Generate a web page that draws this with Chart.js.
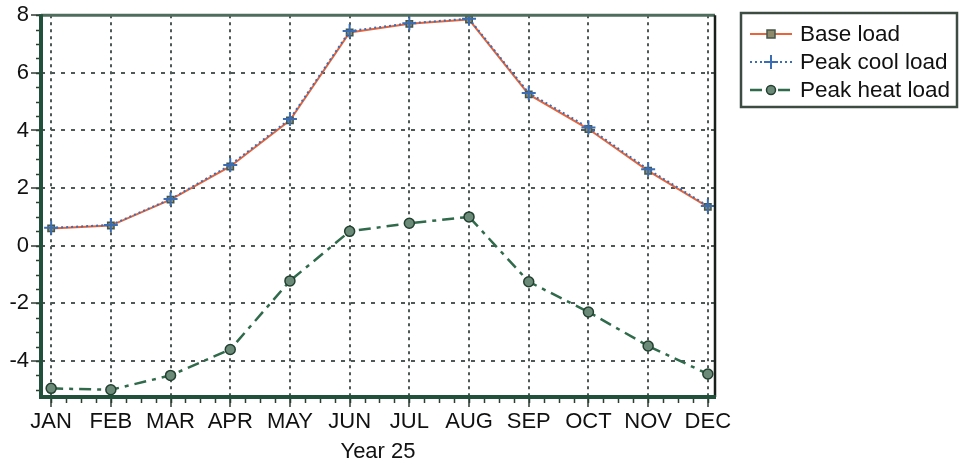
<!DOCTYPE html>
<html>
<head>
<meta charset="utf-8">
<script src="https://cdn.jsdelivr.net/npm/chart.js@4"></script>
<style>
html,body{margin:0;padding:0;background:#fff;}
#wrap{width:964px;height:466px;position:relative;}
</style>
</head>
<body>
<div id="wrap"><canvas id="c" width="964" height="466"></canvas></div>
<script>
const months = ['JAN','FEB','MAR','APR','MAY','JUN','JUL','AUG','SEP','OCT','NOV','DEC'];
const baseLoad = [0.6, 0.7, 1.6, 2.75, 4.35, 7.4, 7.7, 7.85, 5.25, 4.05, 2.6, 1.35];
const peakCoolLoad = [0.62, 0.72, 1.62, 2.8, 4.4, 7.45, 7.72, 7.88, 5.3, 4.1, 2.65, 1.38];
const peakHeatLoad = [-4.95, -5.0, -4.5, -3.6, -1.22, 0.5, 0.78, 1.0, -1.25, -2.3, -3.48, -4.45];
const yTicks = [-4, -2, 0, 2, 4, 6, 8];
const xTitle = 'Year 25';
const seriesNames = ['Base load', 'Peak cool load', 'Peak heat load'];

const FONT = "'Liberation Sans', Arial, sans-serif";
const toXY = arr => arr.map((v, i) => ({x: i, y: v}));

const minorTicks = {
  id: 'minorTicks',
  afterDraw(chart) {
    const ctx = chart.ctx, xs = chart.scales.x, ys = chart.scales.y, a = chart.chartArea;
    ctx.save();
    ctx.strokeStyle = '#2d3d33';
    ctx.lineWidth = 1.5;
    ctx.beginPath();
    for (let v = -5; v <= 8.001; v += 0.5) {
      const y = Math.round(ys.getPixelForValue(v)) + 0.5;
      ctx.moveTo(a.left - 5, y); ctx.lineTo(a.left, y);
    }
    for (let v = 0; v <= 11.001; v += 0.25) {
      const x = Math.round(xs.getPixelForValue(v)) + 0.5;
      ctx.moveTo(x, a.bottom); ctx.lineTo(x, a.bottom + 6);
    }
    ctx.stroke();
    // frame
    ctx.lineWidth = 3;
    ctx.strokeStyle = '#4f6d5d';
    ctx.beginPath(); ctx.moveTo(a.left, a.top); ctx.lineTo(a.right, a.top); ctx.stroke();
    ctx.strokeStyle = '#1a1f1c';
    ctx.lineWidth = 2.5;
    ctx.beginPath(); ctx.moveTo(a.right, a.top); ctx.lineTo(a.right, a.bottom); ctx.stroke();
    ctx.strokeStyle = '#22513b';
    ctx.lineWidth = 4;
    ctx.beginPath(); ctx.moveTo(a.left, a.top - 1); ctx.lineTo(a.left, a.bottom); ctx.lineTo(a.right + 1, a.bottom); ctx.stroke();
    ctx.restore();
  }
};

const legendBox = {
  id: 'legendBox',
  afterDraw(chart) {
    const ctx = chart.ctx;
    ctx.save();
    ctx.strokeStyle = '#3c4c42';
    ctx.lineWidth = 2.5;
    ctx.strokeRect(741, 13, 216, 94);
    const rows = [34, 62, 90];
    chart.data.datasets.forEach((ds, i) => {
      const y = rows[i];
      ctx.save();
      ctx.strokeStyle = ds.borderColor;
      ctx.lineWidth = ds.borderWidth;
      ctx.setLineDash(ds.borderDash || []);
      ctx.beginPath(); ctx.moveTo(750, y); ctx.lineTo(792, y); ctx.stroke();
      ctx.setLineDash([]);
      ctx.fillStyle = ds.pointBackgroundColor;
      ctx.strokeStyle = ds.pointBorderColor;
      ctx.lineWidth = ds.pointBorderWidth;
      const cx = 771;
      if (ds.pointStyle === 'rect') {
        ctx.fillRect(cx - 4, y - 4, 8, 8); ctx.strokeRect(cx - 4, y - 4, 8, 8);
      } else if (ds.pointStyle === 'cross') {
        ctx.beginPath(); ctx.moveTo(cx - 7, y); ctx.lineTo(cx + 7, y); ctx.moveTo(cx, y - 7); ctx.lineTo(cx, y + 7); ctx.stroke();
      } else {
        ctx.beginPath(); ctx.arc(cx, y, 4.5, 0, Math.PI * 2); ctx.fill(); ctx.stroke();
      }
      ctx.restore();
      ctx.fillStyle = '#111';
      ctx.font = '22.5px ' + FONT;
      ctx.textBaseline = 'middle';
      ctx.fillText(seriesNames[i], 800, y + 1);
    });
    ctx.restore();
  }
};

new Chart(document.getElementById('c'), {
  type: 'line',
  data: {
    datasets: [
      {
        label: seriesNames[0], data: toXY(baseLoad),
        borderColor: '#e8653c', borderWidth: 2, borderDash: [],
        pointStyle: 'rect', pointRadius: 4.5,
        pointBackgroundColor: '#8f8a6a', pointBorderColor: '#45564a', pointBorderWidth: 1.5,
        tension: 0, order: 2
      },
      {
        label: seriesNames[1], data: toXY(peakCoolLoad),
        borderColor: '#3a6db3', borderWidth: 2, borderDash: [2, 3],
        pointStyle: 'cross', pointRadius: 7,
        pointBackgroundColor: '#3a6db3', pointBorderColor: '#3a6db3', pointBorderWidth: 2,
        tension: 0, order: 1
      },
      {
        label: seriesNames[2], data: toXY(peakHeatLoad),
        borderColor: '#2f6a4b', borderWidth: 2.5, borderDash: [12, 6, 4, 6],
        pointStyle: 'circle', pointRadius: 5,
        pointBackgroundColor: '#6b8a78', pointBorderColor: '#22402f', pointBorderWidth: 1.5,
        tension: 0, order: 3
      }
    ]
  },
  options: {
    responsive: false,
    animation: false,
    layout: {padding: {top: 15, right: 249, left: 0, bottom: 0}},
    plugins: {legend: {display: false}, tooltip: {enabled: false}},
    scales: {
      x: {
        type: 'linear', min: -0.17, max: 11.12,
        afterBuildTicks: s => { s.ticks = months.map((m, i) => ({value: i})); },
        afterFit: s => { s.height = 69; },
        ticks: {
          callback: v => months[v] || '',
          font: {family: FONT, size: 22}, color: '#111', padding: 2,
          maxRotation: 0, autoSkip: false
        },
        grid: {
          color: '#4e5856', lineWidth: 2, tickLength: 10, tickColor: '#2d3d33',
          tickWidth: 1.5, tickBorderDash: []
        },
        border: {display: false, dash: [3, 4]},
        title: {display: true, text: xTitle, font: {family: FONT, size: 22}, color: '#111', padding: {top: 0, bottom: 1}}
      },
      y: {
        type: 'linear', min: -5.25, max: 8,
        afterBuildTicks: s => { s.ticks = yTicks.map(v => ({value: v})); },
        afterFit: s => { s.width = 41; },
        ticks: {font: {family: FONT, size: 22}, color: '#111', padding: 2},
        grid: {
          color: '#4e5856', lineWidth: 2, tickLength: 10, tickColor: '#2d3d33',
          tickWidth: 1.5, tickBorderDash: []
        },
        border: {display: false, dash: [4, 6]}
      }
    }
  },
  plugins: [minorTicks, legendBox]
});
</script>
</body>
</html>
